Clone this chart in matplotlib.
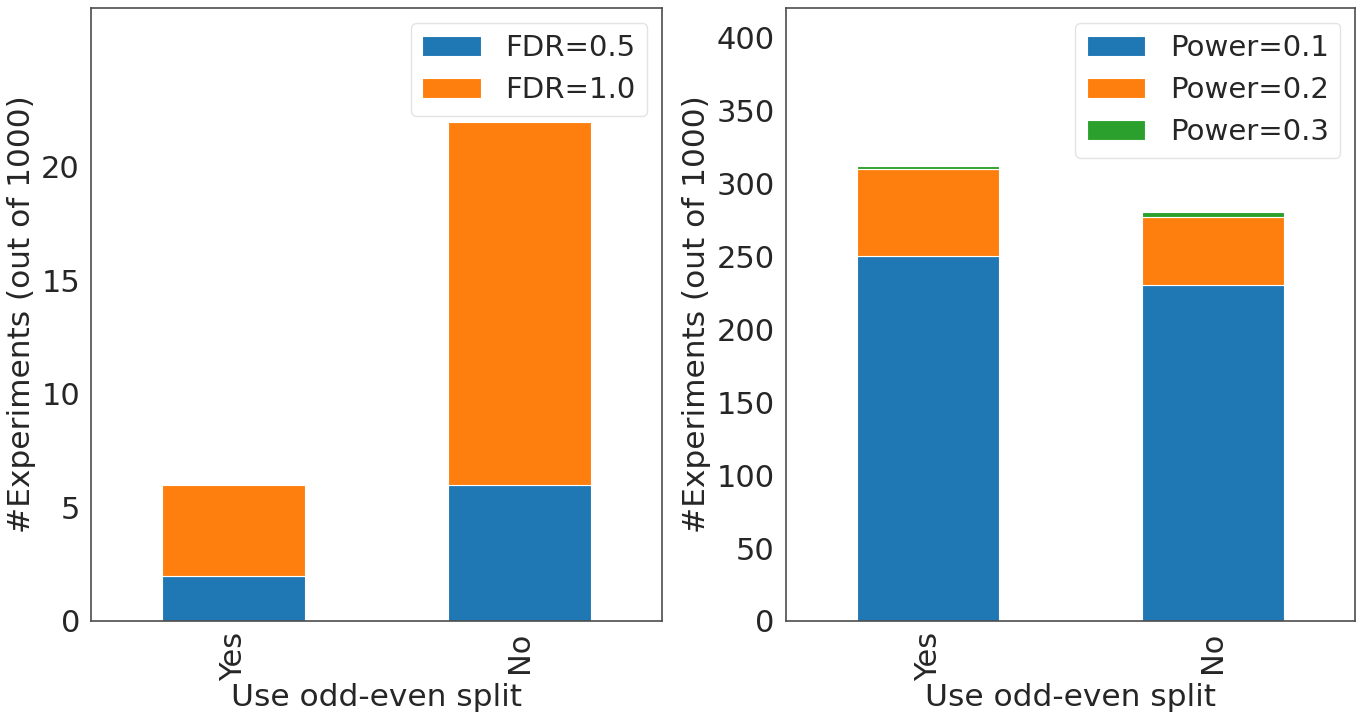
import matplotlib
matplotlib.use("Agg")
import matplotlib.pyplot as plt
import numpy as np

categories = ["Yes", "No"]

fdr_labels = ["FDR=0.5", "FDR=1.0"]
fdr_counts = [
    [2, 6],    # FDR=0.5
    [4, 16],   # FDR=1.0
]

power_labels = ["Power=0.1", "Power=0.2", "Power=0.3"]
power_counts = [
    [250, 230],  # Power=0.1
    [60, 47],    # Power=0.2
    [2, 3],      # Power=0.3
]

colors = ["#1f77b4", "#ff7f0e", "#2ca02c"]
text_color = "#262626"

plt.rcParams['font.family'] = ['DejaVu Sans']
plt.rcParams['text.color'] = text_color
plt.rcParams['axes.labelcolor'] = text_color
plt.rcParams['xtick.color'] = text_color
plt.rcParams['ytick.color'] = text_color
plt.rcParams['axes.edgecolor'] = "#4d4d4d"


def stacked_bars(ax, counts, labels, ylim, yticks):
    x = np.arange(len(categories))
    bottom = np.zeros(len(categories))
    for i, (vals, lab) in enumerate(zip(counts, labels)):
        ax.bar(x, vals, 0.5, bottom=bottom, color=colors[i], label=lab,
               edgecolor="white", linewidth=0.8)
        bottom += np.array(vals)
    ax.set_xticks(x)
    ax.set_xticklabels(categories, rotation=90)
    ax.set_xlim(-0.5, 1.5)
    ax.set_ylim(*ylim)
    ax.set_yticks(yticks)
    ax.tick_params(length=0, pad=8, labelsize=22)
    ax.set_xlabel("Use odd-even split", fontsize=22.5, labelpad=1)
    ax.set_ylabel("#Experiments (out of 1000)", fontsize=22.5)
    ax.legend(loc="upper right", fontsize=21, handlelength=2.0,
              handletextpad=0.85, borderpad=0.4, labelspacing=0.48,
              fancybox=True, framealpha=0.8, edgecolor="#dddddd")
    for sp in ax.spines.values():
        sp.set_linewidth(1.2)


fig = plt.figure(figsize=(13.61, 7.17), dpi=100)
ax1 = fig.add_axes([0.0669, 0.1339, 0.4195, 0.8549])
ax2 = fig.add_axes([0.5775, 0.1339, 0.4181, 0.8549])

stacked_bars(ax1, fdr_counts, fdr_labels, (0, 27), [0, 5, 10, 15, 20])
stacked_bars(ax2, power_counts, power_labels, (0, 420), range(0, 401, 50))

fig.savefig("out.png", dpi=100)
